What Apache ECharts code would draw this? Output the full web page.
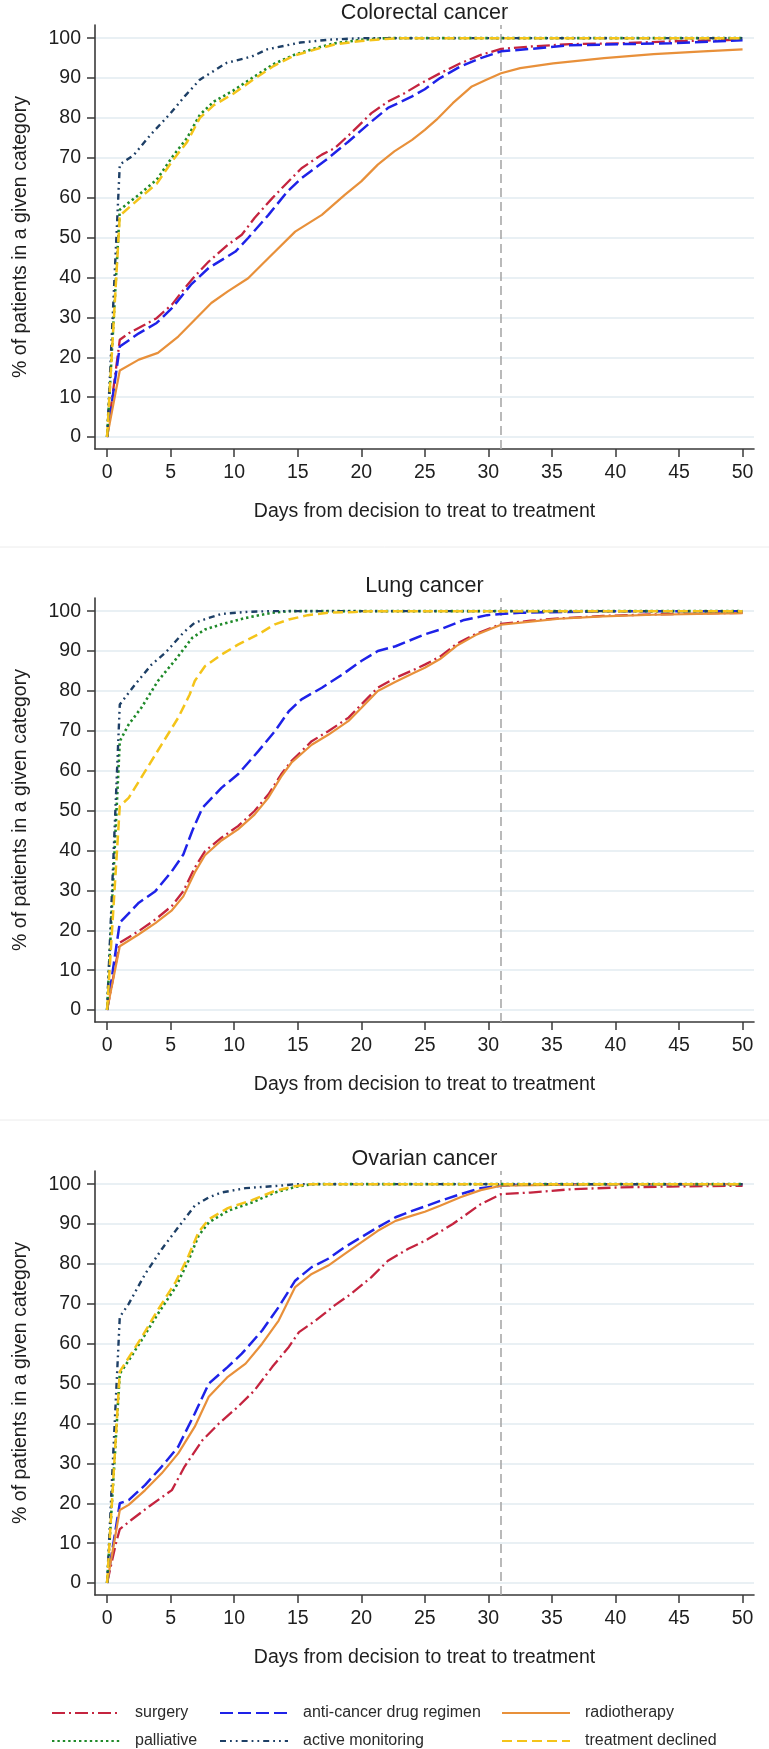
<!DOCTYPE html>
<html><head><meta charset="utf-8">
<script src="https://cdn.jsdelivr.net/npm/echarts@6/dist/echarts.min.js"></script>
<style>html,body{margin:0;padding:0;background:#fff}#c{width:769px;height:1749px}</style>
</head><body><div id="c"></div>
<script>
// ---------- labels ----------
const panelTitles = ['Colorectal cancer', 'Lung cancer', 'Ovarian cancer'];
const seriesNames = ['surgery', 'anti-cancer drug regimen', 'radiotherapy', 'palliative', 'active monitoring', 'treatment declined'];
const xTickValues = [0, 5, 10, 15, 20, 25, 30, 35, 40, 45, 50];
const yTickValues = [0, 10, 20, 30, 40, 50, 60, 70, 80, 90, 100];
const targetDay = 31;
const xAxisTitle = 'Days from decision to treat to treatment';
const yAxisTitle = '% of patients in a given category';

// ---------- data: [day, % of patients] ----------
// Colorectal
const colorectalSurgery = [[0,0],[1,24.4],[1.7,26],[3,28.2],[3.9,29.8],[5.1,33.2],[6.1,37.3],[6.9,40.3],[8,44],[9.5,48.2],[10.6,50.7],[11.6,54.9],[13,59.9],[14,63.2],[15.3,67.4],[16.9,70.8],[17.9,72.4],[19.2,76.2],[20.8,81.2],[22.1,84.1],[23.4,86.2],[24.6,88.5],[26.2,91.2],[27.8,93.7],[29.4,95.8],[31,97.3],[33.3,97.9],[36.4,98.5],[40.4,98.7],[44.3,99.2],[50,99.6]];
const colorectalDrug = [[0,0],[1,22.7],[2.5,26],[3.9,28.6],[5.1,32.3],[6.6,38.2],[8,42.4],[10.1,46.5],[11.1,49.9],[12.7,55.7],[14.2,61.6],[15.3,64.9],[17.4,69.9],[19,74.1],[20.8,79.1],[22.1,82.5],[24,85.4],[25,87.2],[26.2,90],[27.8,92.9],[29.4,95],[31,96.7],[33.3,97.3],[36.4,98.2],[40.4,98.5],[44.3,98.7],[50,99.5]];
const colorectalRadio = [[0,0],[1,16.7],[2.5,19.4],[4,21.1],[5.6,25.2],[6.9,29.4],[8.2,33.6],[9.5,36.5],[11.1,39.8],[12.7,44.9],[14.8,51.5],[16.9,55.7],[18.7,60.7],[20,64.1],[21.3,68.3],[22.6,71.6],[24,74.5],[25,77],[25.9,79.5],[27.2,83.7],[28.7,87.9],[29.8,89.5],[31,91.2],[32.5,92.5],[35.1,93.7],[39.1,95],[43,96],[46.9,96.7],[50,97.2]];
const colorectalPalliative = [[0,0],[1,57],[2.6,61],[3.9,64.5],[5.2,70.5],[6.3,75],[7.3,80.8],[8.4,84.1],[9.9,86.8],[11.5,90.2],[13.1,93.5],[14.7,95.8],[16.4,97.5],[17.9,98.7],[20,99.6],[21.9,100],[50,100]];
const colorectalMonitoring = [[0,0],[1,68.3],[2.1,70.7],[3.4,75.7],[5,81.2],[6.1,85.4],[7.3,89.6],[8.1,91.2],[9.4,93.8],[11.4,95.4],[12.6,97.2],[15.2,98.9],[17.4,99.6],[20,100],[50,100]];
const colorectalDeclined = [[0,0],[1,55.5],[2.6,60],[3.9,63.5],[5.2,69.5],[6.3,74],[7.3,80],[8.4,83.2],[9.9,86],[11.5,89.6],[13.1,93],[14.7,95.6],[16.4,97.2],[17.9,98.4],[20,99.3],[21.9,99.8],[23.4,100],[50,100]];
// Lung
const lungSurgery = [[0,0],[1,16.9],[2.5,19.8],[3.8,22.7],[5.1,26.1],[6,29.8],[6.9,35.7],[7.7,39.8],[9,43.2],[10.3,46.1],[11.6,49.9],[12.7,54.1],[13.7,59.1],[14.5,62.4],[16.1,67.4],[17.4,69.9],[19,73.3],[20,76.6],[21.3,80.8],[22.7,83.3],[24.2,85.4],[25,86.6],[26.2,88.6],[27.5,91.8],[29,94.3],[31,96.8],[33.3,97.6],[35.6,98.2],[39,98.8],[43,99.2],[50,99.6]];
const lungDrug = [[0,0],[1,21.9],[2.5,26.9],[3.8,29.8],[5.1,34.8],[6,39],[6.7,44.9],[7.5,50.7],[9,55.7],[10.3,59.1],[11.9,64.9],[13.2,69.9],[14.3,74.9],[15.3,77.9],[16.9,80.8],[18.5,84.1],[20,87.5],[21.3,90],[22.7,91.2],[25,94.2],[26.2,95.4],[28,97.7],[29.9,99],[31,99.3],[32.5,99.6],[40,100],[50,100]];
const lungRadio = [[0,0],[1,16],[2.5,19],[3.8,21.8],[5.1,25],[6,28.5],[6.9,34.5],[7.7,38.8],[9,42.5],[10.3,45.3],[11.6,49],[12.7,53.3],[13.7,58.5],[14.5,62],[16.1,66.5],[17.4,69],[19,72.5],[20,75.7],[21.3,80],[22.7,82.3],[24.2,84.6],[25,85.8],[26.2,88],[27.5,91.3],[29,94],[31,96.6],[33.3,97.4],[35.6,98.1],[39,98.7],[43,99.1],[50,99.5]];
const lungPalliative = [[0,0],[1,67.4],[1.7,71.6],[2.7,75.8],[4,82.5],[5.4,87.9],[6.7,93.3],[7.7,95.4],[9,96.7],[10.9,98.3],[13,99.6],[14.3,100],[50,100]];
const lungMonitoring = [[0,0],[1,76.6],[1.6,79.1],[2.2,81.6],[3.5,86.6],[4.6,89.6],[6,94.6],[6.9,97.1],[8,98.3],[9,99.3],[10.9,99.8],[12.7,100],[50,100]];
const lungDeclined = [[0,0],[1,51.1],[1.7,53.2],[3,59.9],[4.3,66.6],[5.6,73.3],[6.5,79.1],[6.9,82.5],[7.7,86.2],[9,89.1],[10.3,91.6],[11.9,94.2],[13.2,96.7],[14.3,97.9],[15.8,99],[17.4,99.6],[19.5,99.8],[20.8,100],[50,100]];
// Ovarian
const ovarianSurgery = [[0,0],[0.7,10],[1,13.5],[1.9,15.8],[3.3,19.2],[5.1,23.3],[6.1,29.2],[7.5,35.8],[8.8,40],[10.3,44.2],[11.6,48.3],[13,54.2],[14.3,59.2],[15.1,62.9],[16.4,65.8],[17.9,69.6],[19.2,72.5],[20.8,76.7],[22.1,80.8],[23.7,83.8],[25,85.8],[25.7,87.1],[27.2,90],[29.4,95],[31,97.5],[33.3,97.9],[36.4,98.7],[40.4,99.2],[44.3,99.4],[50,99.6]];
const ovarianDrug = [[0,0],[1,20],[1.7,20.8],[3,24.6],[4.3,29.2],[5.6,34.2],[6.9,42.5],[8,50],[9.5,54.2],[10.6,57.5],[12.2,63.3],[13.5,69.2],[14.8,75.8],[16.1,79.2],[17.4,81.3],[18.7,84.2],[20,86.7],[21.3,89.2],[22.7,91.7],[24,93.3],[25,94.4],[26.2,95.8],[27.8,97.5],[29.4,99],[31,99.6],[33,100],[50,100]];
const ovarianRadio = [[0,0],[1,18.3],[1.7,19.6],[3,23.3],[4.3,27.5],[5.6,32.5],[6.9,39.2],[8,46.7],[9.5,51.7],[10.9,55],[12.2,60],[13.5,65.8],[14.8,74.2],[16.1,77.5],[17.4,79.6],[18.7,82.5],[20,85.4],[21.3,88.3],[22.7,90.8],[24,92.1],[25,93.1],[26.2,94.6],[27.8,96.7],[29.4,98.5],[31,99.6],[35,99.8],[40,100],[50,100]];
const ovarianPalliative = [[0,0],[1,52.5],[1.7,55.8],[2.7,60.8],[4,67.5],[5.4,74.2],[6.4,80.8],[7.2,87.1],[8,90.4],[9.5,93.3],[11.4,95.4],[13.2,97.9],[14.8,99.3],[16.1,100],[50,100]];
const ovarianMonitoring = [[0,0],[1,66.7],[1.7,70],[3,77.5],[4.3,83.7],[5.6,89.2],[6.9,94.6],[8,96.7],[9,97.9],[10.9,99],[13.5,99.6],[14.8,100],[50,100]];
const ovarianDeclined = [[0,0],[1,53],[1.7,56.5],[2.7,61.5],[4,68.5],[5.4,75.5],[6.4,82],[7.2,88],[8,91.2],[9.5,94],[11.4,96],[13.2,98.3],[14.8,99.5],[16,100],[50,100]];

const panelData = [
  [colorectalSurgery, colorectalDrug, colorectalRadio, colorectalPalliative, colorectalMonitoring, colorectalDeclined],
  [lungSurgery, lungDrug, lungRadio, lungPalliative, lungMonitoring, lungDeclined],
  [ovarianSurgery, ovarianDrug, ovarianRadio, ovarianPalliative, ovarianMonitoring, ovarianDeclined]
];

// ---------- styles ----------
const seriesStyles = [
  { color: '#c4243f', type: [13, 4, 2, 4], width: 2.3 },
  { color: '#1e22e8', type: [13, 5], width: 2.5 },
  { color: '#e8903a', type: 'solid', width: 2.2 },
  { color: '#1f8a2a', type: [2.4, 3], width: 2.6 },
  { color: '#1d3f66', type: [6, 4, 1.8, 4, 1.8, 4], width: 2.4 },
  { color: '#f4c41a', type: [10, 5], width: 2.5 }
];
const FONT = "'Liberation Sans', Arial, sans-serif";
const PITCH = 573;
const GRID_TOP = 25, GRID_H = 424, GRID_L = 95, GRID_W = 659;
const axisColor = '#3a3a3a';
const textColor = '#1e1e1e';

const grids = [], xAxes = [], yAxes = [], series = [], graphics = [];
panelTitles.forEach((t, p) => {
  const top = GRID_TOP + p * PITCH;
  grids.push({ left: GRID_L, top: top, width: GRID_W, height: GRID_H });
  xAxes.push({
    gridIndex: p, type: 'value', min: -0.95, max: 50.9,
    axisLine: { show: true, onZero: false, lineStyle: { color: axisColor, width: 1.6 } },
    axisTick: { show: true, customValues: xTickValues, length: 8, lineStyle: { color: axisColor, width: 1.5 } },
    axisLabel: { customValues: xTickValues, margin: 14, fontSize: 19.5, color: textColor, fontFamily: FONT },
    splitLine: { show: false },
    name: xAxisTitle, nameLocation: 'middle', nameGap: 53,
    nameTextStyle: { fontSize: 19.5, color: textColor, fontFamily: FONT }
  });
  yAxes.push({
    gridIndex: p, type: 'value', min: -3, max: 103.3,
    axisLine: { show: true, onZero: false, lineStyle: { color: axisColor, width: 1.6 } },
    axisTick: { show: true, customValues: yTickValues, length: 8, lineStyle: { color: axisColor, width: 1.5 } },
    axisLabel: { customValues: yTickValues, margin: 14, fontSize: 19.5, color: textColor, fontFamily: FONT },
    splitLine: { show: true, lineStyle: { color: '#e2ebf0', width: 1.6 } },
    name: yAxisTitle, nameLocation: 'middle', nameGap: 64,
    nameTextStyle: { fontSize: 19.5, color: textColor, fontFamily: FONT }
  });
  seriesNames.forEach((name, s) => {
    const st = seriesStyles[s];
    const ser = {
      name: name, type: 'line', xAxisIndex: p, yAxisIndex: p,
      data: panelData[p][s], symbol: 'none', smooth: false, silent: true,
      lineStyle: { color: st.color, width: st.width, type: st.type },
      itemStyle: { color: st.color },
      z: 3 + s
    };
    if (s === 0) {
      ser.markLine = {
        silent: true, symbol: 'none', label: { show: false }, z: 1,
        lineStyle: { color: '#a9a9a9', width: 1.6, type: [9, 5] },
        data: [{ xAxis: targetDay }]
      };
    }
    series.push(ser);
  });
  graphics.push({
    type: 'text', x: GRID_L + GRID_W / 2, y: 13 + p * PITCH,
    style: { text: t, font: "21.5px 'Liberation Sans', Arial, sans-serif", fill: textColor, textAlign: 'center', textVerticalAlign: 'middle' }
  });
});
[547, 1120].forEach(y => graphics.push({
  type: 'line', shape: { x1: 0, y1: y, x2: 769, y2: y }, style: { stroke: '#ececec', lineWidth: 1 }
}));

// legend layout: 3 columns x 2 rows, one legend component per item
const legendColLeft = [51, 219, 501];
const legendRowTop = [1705, 1733];
const legendOrder = [[0, 3], [1, 4], [2, 5]]; // column -> series indices (row1,row2)
const legends = [];
legendOrder.forEach((col, c) => col.forEach((si, r) => {
  legends.push({
    orient: 'horizontal', left: legendColLeft[c], top: legendRowTop[r], padding: 0,
    itemWidth: 68, itemHeight: 14, itemGap: 0,
    data: [seriesNames[si]], selectedMode: false,
    itemStyle: { opacity: 0 },
    textStyle: { fontSize: 16, color: '#2a2a2a', fontFamily: FONT, padding: [0, 0, 0, 10] }
  });
}));

const chart = echarts.init(document.getElementById('c'), null, { renderer: 'canvas' });
chart.setOption({
  animation: false,
  backgroundColor: '#ffffff',
  grid: grids, xAxis: xAxes, yAxis: yAxes, series: series,
  legend: legends, graphic: graphics
});
</script></body></html>
